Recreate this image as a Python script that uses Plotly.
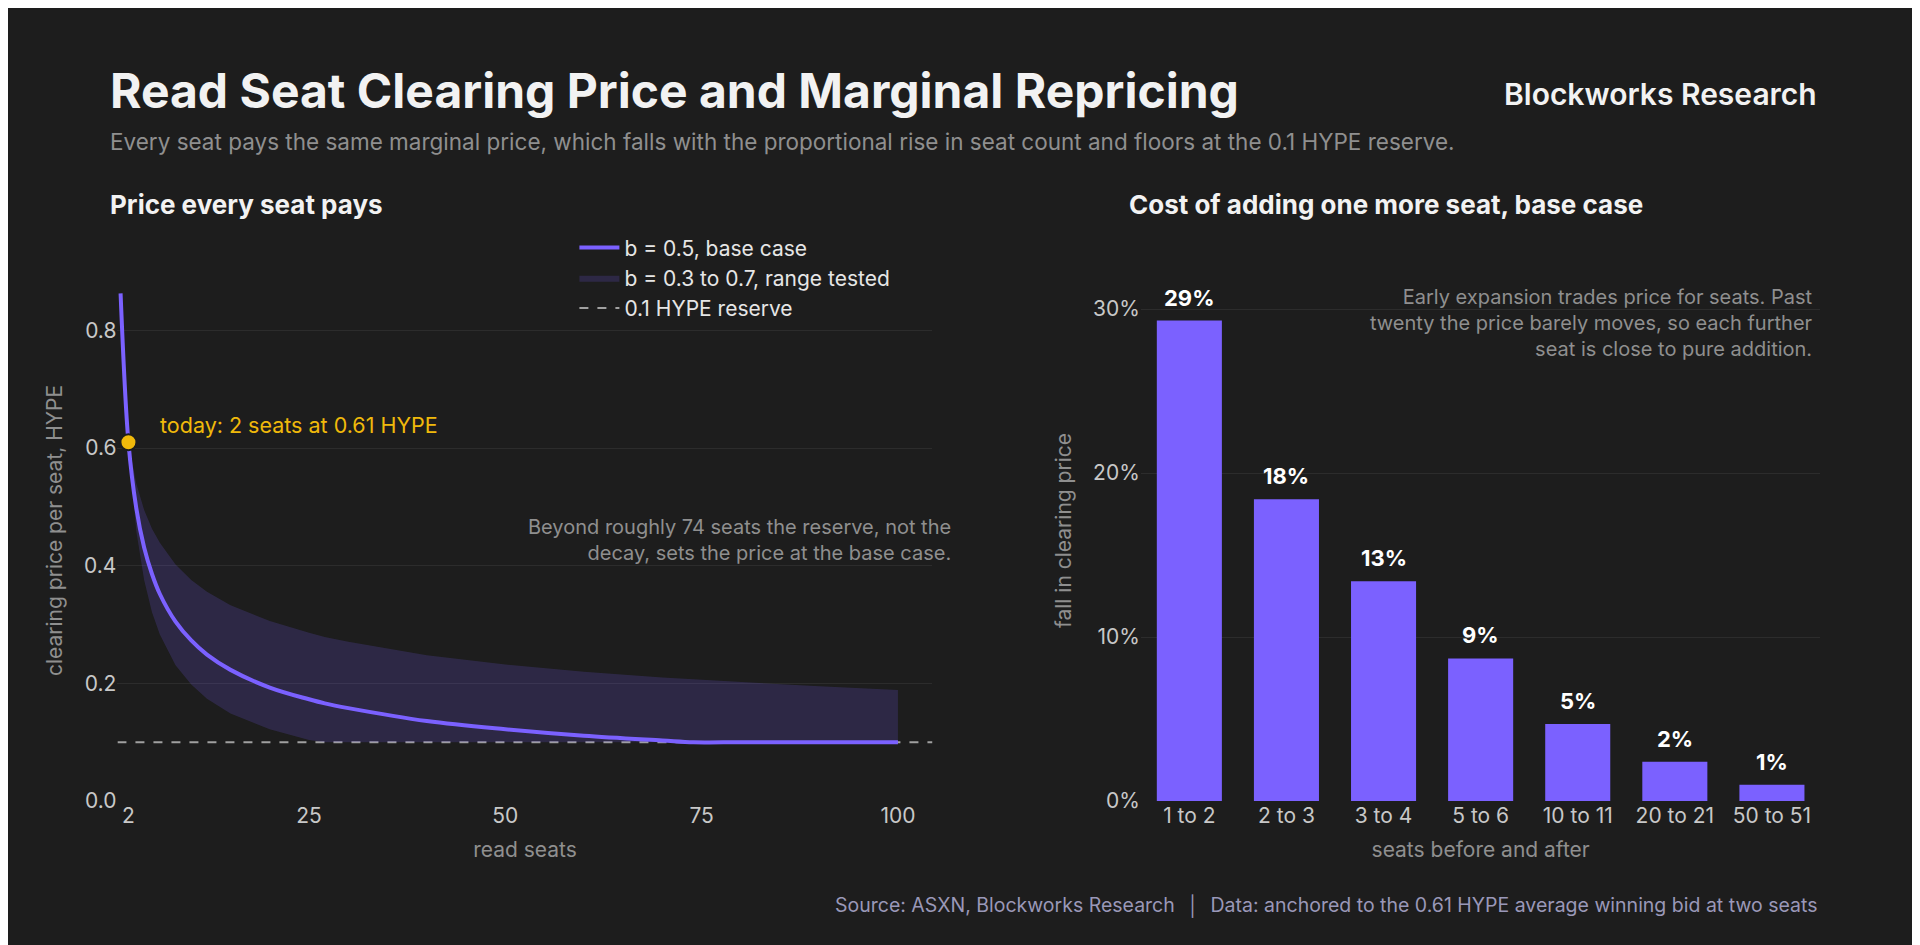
import plotly.graph_objects as go

# Left chart data
base_seats = [1, 2, 3, 4, 5, 6, 8, 10, 12, 15, 20, 25, 27, 30, 40, 50, 60, 70, 74, 80, 90, 100]
base_price = [0.863, 0.610, 0.498, 0.431, 0.386, 0.352, 0.305, 0.273, 0.249, 0.223, 0.193, 0.173,
              0.166, 0.158, 0.136, 0.122, 0.111, 0.103, 0.100, 0.100, 0.100, 0.100]
band_seats = [2, 3, 4, 5, 6, 8, 10, 12, 15, 20, 25, 27, 30, 40, 50, 60, 70, 74, 80, 90, 100]
band_upper = [0.610, 0.540, 0.495, 0.463, 0.439, 0.402, 0.376, 0.356, 0.333, 0.306, 0.286, 0.279,
              0.271, 0.248, 0.232, 0.220, 0.210, 0.207, 0.202, 0.195, 0.189]
band_lower = [0.610, 0.459, 0.376, 0.321, 0.283, 0.231, 0.198, 0.174, 0.149, 0.122, 0.104, 0.100,
              0.100, 0.100, 0.100, 0.100, 0.100, 0.100, 0.100, 0.100, 0.100]
reserve = 0.1
today_seats, today_price = 2, 0.61
left_ticks = [2, 25, 50, 75, 100]

# Right chart data
steps = ["1 to 2", "2 to 3", "3 to 4", "5 to 6", "10 to 11", "20 to 21", "50 to 51"]
falls = [0.293, 0.184, 0.134, 0.087, 0.047, 0.024, 0.010]
fall_labels = ["29%", "18%", "13%", "9%", "5%", "2%", "1%"]

PURPLE = "#7B61FF"
YELLOW = "#F0B90B"
GRID = "#2c2c2c"
TICK = "#c8c8c8"
MUTED = "#8f8f8f"
FONT = "Inter"

fig = go.Figure()

fig.add_trace(go.Scatter(x=[0.6, 104.4], y=[reserve, reserve], mode="lines",
                         line=dict(color="#a0a0a0", width=2, dash="dash"),
                         name="0.1 HYPE reserve", xaxis="x", yaxis="y"))
fig.add_trace(go.Scatter(x=band_seats, y=band_lower, mode="lines", line=dict(width=0),
                         showlegend=False, hoverinfo="skip", xaxis="x", yaxis="y"))
fig.add_trace(go.Scatter(x=band_seats, y=band_upper, mode="lines", line=dict(width=0),
                         fill="tonexty", fillcolor="rgba(123,97,255,0.18)",
                         name="b = 0.3 to 0.7, range tested", xaxis="x", yaxis="y"))
fig.add_trace(go.Scatter(x=base_seats, y=base_price, mode="lines",
                         line=dict(color=PURPLE, width=4, shape="spline"),
                         name="b = 0.5, base case", xaxis="x", yaxis="y"))
fig.add_trace(go.Scatter(x=[today_seats], y=[today_price], mode="markers",
                         marker=dict(color=YELLOW, size=16, line=dict(color="#1d1d1d", width=2)),
                         showlegend=False, xaxis="x", yaxis="y"))

fig.add_trace(go.Bar(x=steps, y=falls, marker_color=PURPLE, marker_line_width=0,
                     showlegend=False, xaxis="x2", yaxis="y2"))
for s, v, t in zip(steps, falls, fall_labels):
    fig.add_annotation(x=s, y=v, xref="x2", yref="y2", text="<b>" + t + "</b>", showarrow=False,
                       yanchor="bottom", yshift=8, font=dict(color="white", size=22, family=FONT))

axis_common = dict(showline=False, zeroline=False, tickfont=dict(color=TICK, size=21, family=FONT),
                   ticks="")
title_font = dict(size=21, color=MUTED)
fig.update_layout(
    width=1920, height=945,
    paper_bgcolor="#1d1d1d", plot_bgcolor="rgba(0,0,0,0)",
    font=dict(family=FONT, color=TICK),
    margin=dict(l=0, r=0, t=0, b=0),
    xaxis=dict(domain=[0.057, 0.4815], range=[0.6, 104.4], tickvals=left_ticks,
               showgrid=False, title=dict(text="read seats", font=title_font), **axis_common),
    yaxis=dict(domain=[0.15, 0.73], range=[0, 0.92], tickvals=[0, 0.2, 0.4, 0.6, 0.8],
               tickformat=".1f", gridcolor=GRID, anchor="x",
               title=dict(text="clearing price per seat, HYPE", font=title_font), **axis_common),
    xaxis2=dict(domain=[0.59, 0.944], anchor="y2", showgrid=False,
                title=dict(text="seats before and after", font=title_font), **axis_common),
    yaxis2=dict(domain=[0.15, 0.73], range=[0, 0.33], anchor="x2", tickvals=[0, 0.1, 0.2, 0.3],
                tickformat=".0%", gridcolor=GRID,
                title=dict(text="fall in clearing price", font=title_font), **axis_common),
    bargap=0.33,
    legend=dict(x=0.295, y=0.765, xanchor="left", yanchor="top", bgcolor="rgba(0,0,0,0)",
                traceorder="reversed", tracegroupgap=8,
                font=dict(size=21, color="#e6e6e6"), itemwidth=40),
)

anns = [
    dict(x=0.052, y=0.912, text="<b>Read Seat Clearing Price and Marginal Repricing</b>",
         font=dict(size=48, color="#f2f2f2")),
    dict(x=0.052, y=0.857, text="Every seat pays the same marginal price, which falls with the proportional rise in seat count and floors at the 0.1 HYPE reserve.",
         font=dict(size=22.5, color=MUTED)),
    dict(x=0.052, y=0.789, text="<b>Price every seat pays</b>", font=dict(size=26, color="#f2f2f2")),
    dict(x=0.583, y=0.789, text="<b>Cost of adding one more seat, base case</b>", font=dict(size=26, color="#f2f2f2")),
    dict(x=0.943, y=0.908, text="Blockworks Research", xanchor="right",
         font=dict(size=30, color="#f2f2f2", weight=600)),
    dict(x=0.492, y=0.43, text="Beyond roughly 74 seats the reserve, not the<br>decay, sets the price at the base case.",
         xanchor="right", align="right", font=dict(size=20, color=MUTED)),
    dict(x=0.941, y=0.705, yanchor="top", text="Early expansion trades price for seats. Past<br>twenty the price barely moves, so each further<br>seat is close to pure addition.",
         xanchor="right", align="right", font=dict(size=20, color=MUTED)),
    dict(x=0.943, y=0.038, text="Source: ASXN, Blockworks Research  │  Data: anchored to the 0.61 HYPE average winning bid at two seats",
         xanchor="right", font=dict(size=19.5, color="#9a98b8")),
]
for a in anns:
    a.setdefault("xanchor", "left")
    a.setdefault("yanchor", "middle")
    fig.add_annotation(xref="paper", yref="paper", showarrow=False, **a)

fig.add_annotation(x=5.8, y=0.64, xref="x", yref="y", text="today: 2 seats at 0.61 HYPE",
                   showarrow=False, xanchor="left", font=dict(size=21.5, color=YELLOW))

fig.write_html("out.html")
